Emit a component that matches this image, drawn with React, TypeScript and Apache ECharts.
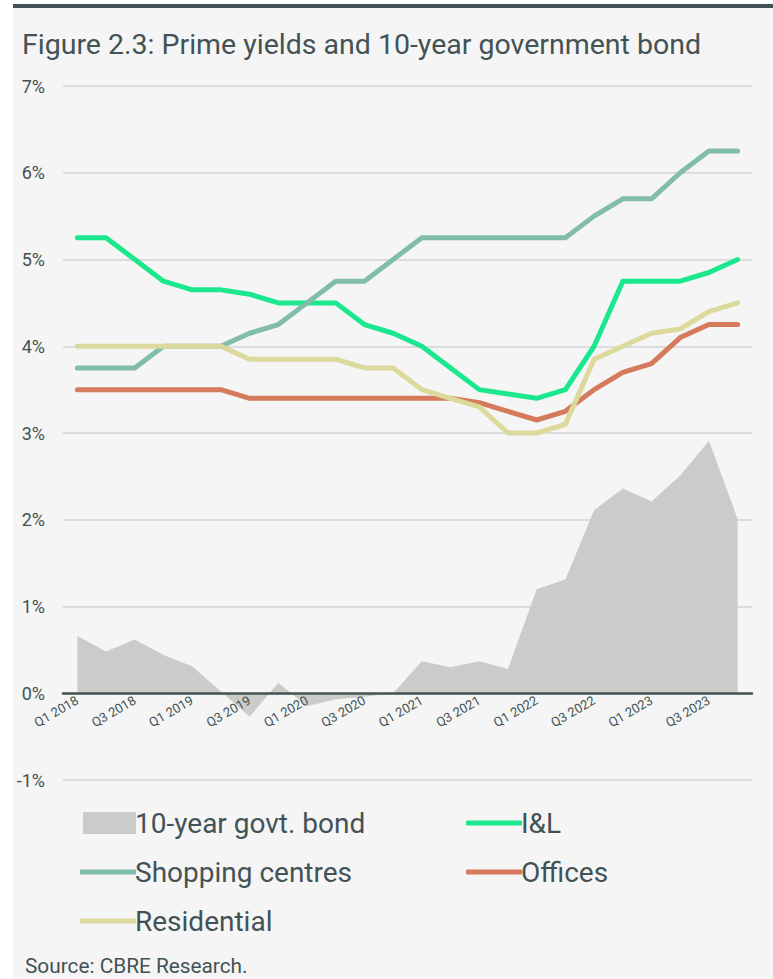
import React, { useEffect, useRef } from 'react';
import * as echarts from 'echarts';

const quarters = [
  'Q1 2018', 'Q2 2018', 'Q3 2018', 'Q4 2018',
  'Q1 2019', 'Q2 2019', 'Q3 2019', 'Q4 2019',
  'Q1 2020', 'Q2 2020', 'Q3 2020', 'Q4 2020',
  'Q1 2021', 'Q2 2021', 'Q3 2021', 'Q4 2021',
  'Q1 2022', 'Q2 2022', 'Q3 2022', 'Q4 2022',
  'Q1 2023', 'Q2 2023', 'Q3 2023', 'Q4 2023',
];

const bond = [0.66, 0.48, 0.62, 0.44, 0.31, 0.02, -0.27, 0.12, -0.15, -0.07, -0.04, 0.0,
  0.37, 0.30, 0.37, 0.28, 1.20, 1.31, 2.11, 2.36, 2.21, 2.51, 2.91, 2.01];
const il = [5.25, 5.25, 5.0, 4.75, 4.65, 4.65, 4.6, 4.5, 4.5, 4.5, 4.25, 4.15,
  4.0, 3.75, 3.5, 3.45, 3.4, 3.5, 4.0, 4.75, 4.75, 4.75, 4.85, 5.0];
const shopping = [3.75, 3.75, 3.75, 4.0, 4.0, 4.0, 4.15, 4.25, 4.5, 4.75, 4.75, 5.0,
  5.25, 5.25, 5.25, 5.25, 5.25, 5.25, 5.5, 5.7, 5.7, 6.0, 6.25, 6.25];
const offices = [3.5, 3.5, 3.5, 3.5, 3.5, 3.5, 3.4, 3.4, 3.4, 3.4, 3.4, 3.4,
  3.4, 3.4, 3.35, 3.25, 3.15, 3.25, 3.5, 3.7, 3.8, 4.1, 4.25, 4.25];
const residential = [4.0, 4.0, 4.0, 4.0, 4.0, 4.0, 3.85, 3.85, 3.85, 3.85, 3.75, 3.75,
  3.5, 3.4, 3.3, 3.0, 3.0, 3.1, 3.85, 4.0, 4.15, 4.2, 4.4, 4.5];

const yMin = -1;
const yMax = 7;
const yStep = 1;

const TITLE = 'Figure 2.3: Prime yields and 10-year government bond';
const SOURCE = 'Source: CBRE Research.';

const DARK = '#435254';
const C_BOND = '#cbccc9';
const C_IL = '#1be88e';
const C_SHOP = '#82bcab';
const C_OFF = '#d57a5b';
const C_RES = '#dcd99c';
const FONT = 'Roboto, sans-serif';

const W = 773;
const H = 979;
const GRID = { left: 63, right: 21, top: 86, bottom: 199 };

export default function App() {
  const ref = useRef<HTMLDivElement>(null);

  useEffect(() => {
    if (!ref.current) return;
    const chart = echarts.init(ref.current, undefined, { renderer: 'svg' });

    const gridH = H - GRID.top - GRID.bottom;
    // move the category axis (line + labels) up to the zero value
    const zeroOffset = -((0 - yMin) / (yMax - yMin)) * gridH;

    const lineSeries = (name: string, data: number[], color: string) => ({
      name,
      type: 'line',
      data,
      symbol: 'none',
      z: 3,
      lineStyle: { color, width: 5, cap: 'round', join: 'round' },
      itemStyle: { color },
    });

    const legendText = { fontSize: 28, color: DARK, fontFamily: FONT, padding: [0, 0, 0, -6] };
    const lineLegend = (name: string, left: number, top: number) => ({
      data: [name],
      left,
      top,
      icon: 'roundRect',
      itemWidth: 56,
      itemHeight: 5,
      textStyle: legendText,
      selectedMode: false,
    });

    chart.setOption({
      animation: false,
      backgroundColor: '#ffffff',
      title: {
        text: TITLE,
        left: 22,
        top: 30,
        padding: 0,
        textStyle: { fontSize: 28.5, fontWeight: 'normal', color: DARK, fontFamily: FONT },
      },
      graphic: [
        {
          type: 'rect',
          z: -100,
          silent: true,
          shape: { x: 13, y: 4, width: 760, height: 975 },
          style: { fill: '#f5f5f5' },
        },
        {
          type: 'rect',
          z: -99,
          silent: true,
          shape: { x: 13, y: 4, width: 760, height: 4 },
          style: { fill: DARK },
        },
        {
          type: 'text',
          x: 25,
          y: 966,
          style: {
            text: SOURCE,
            fontSize: 20.8,
            fill: DARK,
            fontFamily: FONT,
            verticalAlign: 'middle',
          },
        },
      ],
      legend: [
        {
          data: ['10-year govt. bond'],
          left: 78,
          top: 804,
          icon: 'rect',
          itemWidth: 53,
          itemHeight: 22,
          textStyle: legendText,
          selectedMode: false,
        },
        lineLegend('I&L', 461, 804),
        lineLegend('Shopping centres', 75, 853),
        lineLegend('Offices', 461, 853),
        lineLegend('Residential', 75, 902),
      ],
      grid: { ...GRID, containLabel: false },
      xAxis: {
        type: 'category',
        data: quarters,
        boundaryGap: true,
        offset: zeroOffset,
        z: 10,
        axisLine: { onZero: false, lineStyle: { color: DARK, width: 2.5 } },
        axisTick: { show: false },
        axisLabel: {
          interval: 1,
          rotate: 30,
          fontSize: 13,
          color: DARK,
          fontFamily: FONT,
          margin: 6,
        },
      },
      yAxis: {
        type: 'value',
        min: yMin,
        max: yMax,
        interval: yStep,
        axisLine: { show: false },
        axisTick: { show: false },
        splitLine: { lineStyle: { color: '#d3d3d3', width: 1.5 } },
        axisLabel: {
          formatter: '{value}%',
          fontSize: 18,
          color: DARK,
          fontFamily: FONT,
          margin: 18,
        },
      },
      series: [
        {
          name: '10-year govt. bond',
          type: 'line',
          data: bond,
          symbol: 'none',
          z: 1,
          lineStyle: { width: 0, color: C_BOND },
          itemStyle: { color: C_BOND },
          areaStyle: { color: C_BOND, opacity: 1 },
        },
        lineSeries('I&L', il, C_IL),
        lineSeries('Shopping centres', shopping, C_SHOP),
        lineSeries('Offices', offices, C_OFF),
        lineSeries('Residential', residential, C_RES),
      ],
    });

    return () => {
      chart.dispose();
    };
  }, []);

  return (
    <div
      ref={ref}
      style={{ position: 'absolute', left: 0, top: 0, width: W, height: H }}
    />
  );
}
